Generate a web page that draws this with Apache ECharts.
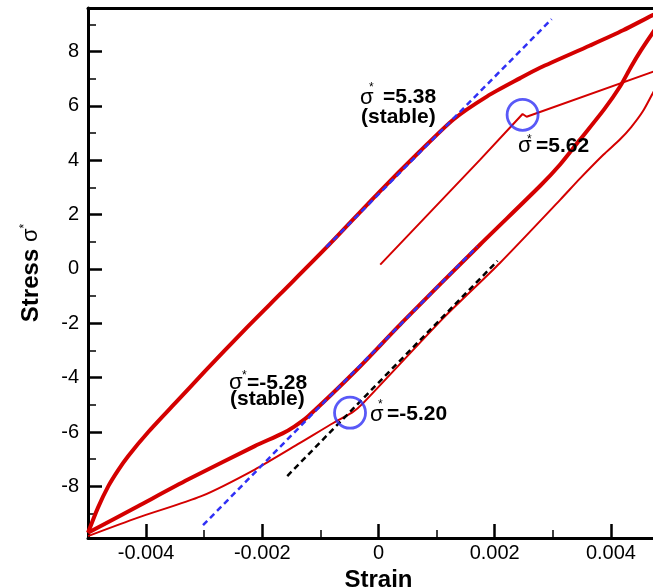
<!DOCTYPE html>
<html><head><meta charset="utf-8">
<script src="https://cdn.jsdelivr.net/npm/echarts@6/dist/echarts.min.js"></script>
<style>html,body{margin:0;padding:0;background:#fff;overflow:hidden}#c{width:653px;height:588px}</style>
</head><body><div id="c"></div>
<script>
// ---- tick values / labels ----
const xMajorTicks = [-0.004, -0.002, 0, 0.002, 0.004];
const xTickLabels = ['-0.004', '-0.002', '0', '0.002', '0.004'];
const xMinorTicks = [-0.003, -0.001, 0.001, 0.003];
const yMajorTicks = [-8, -6, -4, -2, 0, 2, 4, 6, 8];
const yTickLabels = ['-8', '-6', '-4', '-2', '0', '2', '4', '6', '8'];
const yMinorTicks = [-9, -7, -5, -3, -1, 1, 3, 5, 7, 9];

// ---- stable loop, loading branch (thick) ----
const upperStrain = [-0.005, -0.00483, -0.00465, -0.00448, -0.00431, -0.00397, -0.0035, -0.00299, -0.0023, -0.00169, -0.0009, 0, 0.0007, 0.00129, 0.00187, 0.00244, 0.00278, 0.00364, 0.00421, 0.00473, 0.005];
const upperStress = [-9.71, -8.79, -7.99, -7.40, -6.89, -6.02, -4.94, -3.77, -2.23, -0.92, 0.78, 2.80, 4.30, 5.50, 6.35, 7.02, 7.40, 8.22, 8.78, 9.35, 9.62];
// ---- stable loop, unloading branch (thick) ----
const lowerStrain = [0.005, 0.00473, 0.00452, 0.00435, 0.00416, 0.00388, 0.00347, 0.00313, 0.00278, 0.00175, 0.00043, -0.00037, -0.00121, -0.00145, -0.00165, -0.00213, -0.00328, -0.00414, -0.005];
const lowerStress = [9.55, 8.72, 8.05, 7.45, 6.72, 5.86, 4.76, 3.85, 3.05, 0.90, -1.92, -3.70, -5.42, -5.80, -6.05, -6.52, -7.75, -8.73, -9.71];
// ---- first loading from origin (thin) ----
const firstStrain = [0.00003, 0.00175, 0.00248, 0.00255, 0.00473, 0.005];
const firstStress = [0.16, 4.02, 5.70, 5.60, 7.26, 7.47];
// ---- first unloading (thin) ----
const firstDownStrain = [0.005, 0.00473, 0.00455, 0.00435, 0.00415, 0.00387, 0.00347, 0.00313, 0.00209, 0.00112, -0.00026, -0.00045, -0.00077, -0.00135, -0.00213, -0.00305, -0.00414, -0.005];
const firstDownStress = [7.47, 6.50, 5.80, 5.22, 4.75, 4.20, 3.33, 2.55, 0.22, -1.80, -4.93, -5.28, -5.66, -6.40, -7.38, -8.36, -9.15, -9.83];
// ---- elastic reference lines ----
const blueUpperStrain = [-0.0009, 0.00298];
const blueUpperStress = [0.80, 9.19];
const blueLowerStrain = [-0.00302, 0.0017];
const blueLowerStress = [-9.43, 0.83];
const blackStrain = [-0.00157, 0.00205];
const blackStress = [-7.62, 0.30];
// ---- marked yield points ----
const circleStrain = [0.00248, -0.00049];
const circleStress = [5.67, -5.29];

const zip = (a, b) => a.map((v, i) => [v, b[i]]);
const lab = (ticks, labels) => v => { const i = ticks.findIndex(t => Math.abs(t - v) < 1e-9); return i >= 0 ? labels[i] : ''; };

const RED = '#d40000', BLUE = '#3030f5';
const FF = '"Liberation Sans", Arial, sans-serif';

function line(data, color, width, type, smooth, z) {
  return { type: 'line', data, showSymbol: false, symbol: 'none', smooth: smooth, silent: true, z: z || 2,
    lineStyle: { color, width, type: type || 'solid', cap: 'butt' }, animation: false };
}
function T(text, x, base, size, weight) {
  return { type: 'text', x: x, y: base - 0.34 * size, silent: true, z: 100,
    style: { text, fill: '#000', font: weight + ' ' + size + 'px ' + FF,
      align: 'left', textAlign: 'left', verticalAlign: 'middle', textVerticalAlign: 'middle' } };
}

const chart = echarts.init(document.getElementById('c'), null, { renderer: 'canvas' });
chart.setOption({
  animation: false,
  backgroundColor: '#fff',
  textStyle: { fontFamily: FF },
  grid: { left: 88, top: 8, right: -16, bottom: 50, outerBoundsMode: 'none', containLabel: false },
  xAxis: [
    { type: 'value', min: -0.005, max: 0.005, position: 'bottom',
      axisLine: { show: true, onZero: false, lineStyle: { color: '#000', width: 3 } },
      axisTick: { show: true, inside: true, length: 14, customValues: xMajorTicks, lineStyle: { color: '#000', width: 2.5 } },
      axisLabel: { customValues: xMajorTicks, formatter: lab(xMajorTicks, xTickLabels), fontSize: 20, fontFamily: FF, color: '#000', margin: 5 },
      splitLine: { show: false },
      name: 'Strain', nameLocation: 'middle', nameGap: 25,
      nameTextStyle: { fontSize: 24, fontWeight: 'bold', fontFamily: FF, color: '#000' } },
    { type: 'value', min: -0.005, max: 0.005, position: 'bottom',
      axisLine: { show: false, onZero: false },
      axisTick: { show: true, inside: true, length: 8, customValues: xMinorTicks, lineStyle: { color: '#000', width: 1.5 } },
      axisLabel: { show: false, customValues: xMinorTicks },
      splitLine: { show: false } },
    { type: 'value', min: -0.005, max: 0.005, position: 'top',
      axisLine: { show: true, onZero: false, lineStyle: { color: '#000', width: 3 } },
      axisTick: { show: false }, axisLabel: { show: false }, splitLine: { show: false } }
  ],
  yAxis: [
    { type: 'value', min: -9.9, max: 9.6, position: 'left',
      axisLine: { show: true, onZero: false, lineStyle: { color: '#000', width: 3 } },
      axisTick: { show: true, inside: true, length: 14, customValues: yMajorTicks, lineStyle: { color: '#000', width: 2.5 } },
      axisLabel: { customValues: yMajorTicks, formatter: lab(yMajorTicks, yTickLabels), fontSize: 20, fontFamily: FF, color: '#000', margin: 9 },
      splitLine: { show: false },
      name: '{b|Stress }{s|σ}{sup|*}', nameLocation: 'middle', nameRotate: 90, nameGap: 45,
      nameTextStyle: { color: '#000', rich: {
        b: { fontSize: 24, fontWeight: 'bold', fontFamily: FF, lineHeight: 24, color: '#000' },
        s: { fontSize: 22, fontFamily: FF, lineHeight: 24, color: '#000' },
        sup: { fontSize: 12, fontFamily: FF, lineHeight: 6, verticalAlign: 'top', color: '#000' } } } },
    { type: 'value', min: -9.9, max: 9.6, position: 'left',
      axisLine: { show: false, onZero: false },
      axisTick: { show: true, inside: true, length: 8, customValues: yMinorTicks, lineStyle: { color: '#000', width: 1.5 } },
      axisLabel: { show: false, customValues: yMinorTicks },
      splitLine: { show: false } }
  ],
  series: [
    line(zip(upperStrain, upperStress), RED, 4, 'solid', 0.25, 2),
    line(zip(lowerStrain, lowerStress), RED, 4, 'solid', 0.25, 2),
    line(zip(firstStrain, firstStress), RED, 2, 'solid', false, 2),
    line(zip(firstDownStrain, firstDownStress), RED, 2, 'solid', 0.25, 2),
    line(zip(blueUpperStrain, blueUpperStress), BLUE, 2.5, [6, 4], false, 3),
    line(zip(blueLowerStrain, blueLowerStress), BLUE, 2.5, [6, 4], false, 3),
    line(zip(blackStrain, blackStress), '#000', 2.5, [6, 4], false, 3),
    { type: 'scatter', data: zip(circleStrain, circleStress), symbol: 'circle', symbolSize: 31, silent: true, z: 4,
      itemStyle: { color: 'rgba(0,0,0,0)', borderColor: BLUE, borderWidth: 2.8 }, animation: false }
  ],
  graphic: { elements: [
    T('σ', 360, 105, 22, 'normal'), T('*', 369, 92, 12, 'normal'), T('=5.38', 383, 104.5, 21, 'bold'),
    T('(stable)', 361, 124.5, 21, 'bold'),
    T('σ', 518, 153, 22, 'normal'), T('*', 527, 144, 12, 'normal'), T('=5.62', 536, 153.5, 21, 'bold'),
    T('σ', 229, 390, 22, 'normal'), T('*', 242, 380, 12, 'normal'), T('=-5.28', 247, 390, 21, 'bold'),
    T('(stable)', 230, 406.5, 21, 'bold'),
    T('σ', 370, 422, 22, 'normal'), T('*', 378, 409, 12, 'normal'), T('=-5.20', 387, 421.5, 21, 'bold')
  ] }
});
</script></body></html>
